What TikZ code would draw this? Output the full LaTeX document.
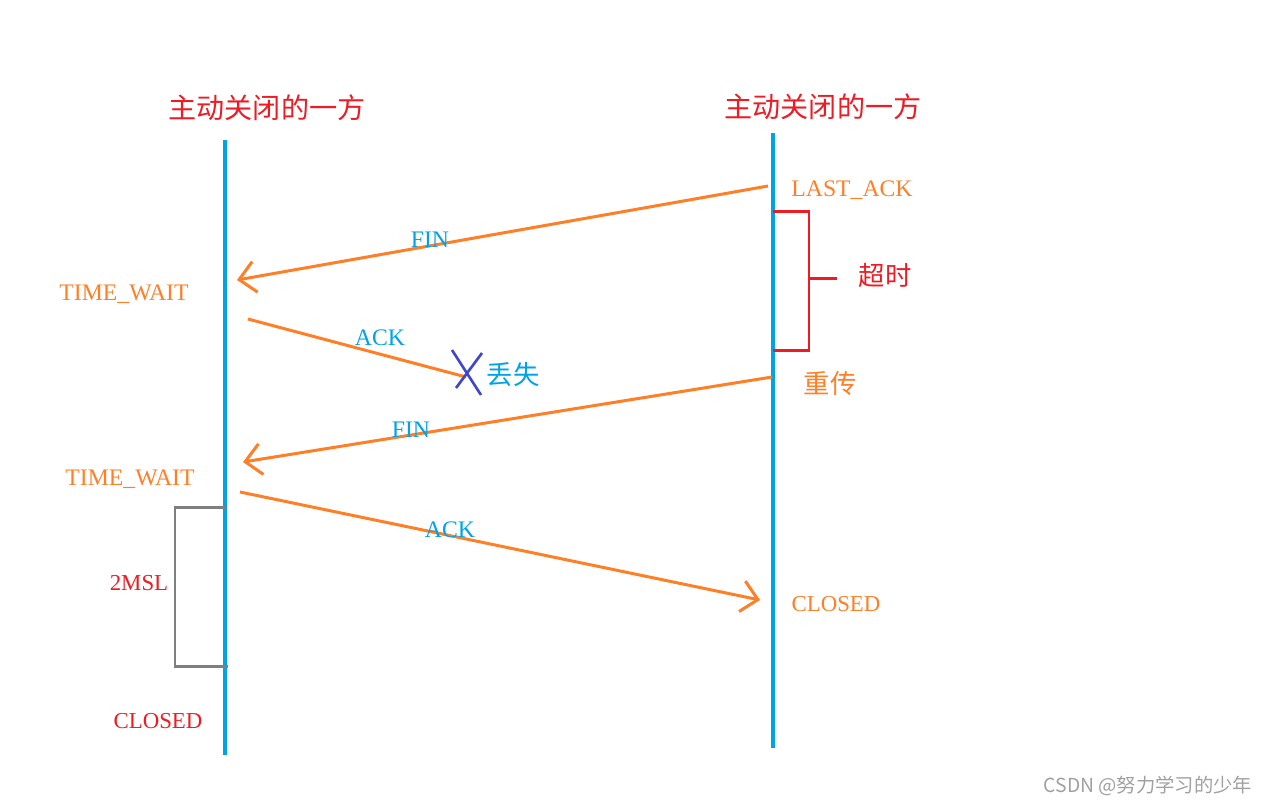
\documentclass[tikz,border=0pt]{standalone}
\usepackage{fontspec}
\setmainfont{Liberation Serif}
\newfontfamily\cjkfont{Noto Sans CJK SC}
\usetikzlibrary{
  arrows.meta,
  positioning
}
\definecolor{tcpLine}{HTML}{00A2E8}
\definecolor{tcpSeg}{HTML}{FF7F27}
\definecolor{tcpRed}{HTML}{ED1C24}
\definecolor{tcpLost}{HTML}{3F48CC}
\definecolor{tcpGray}{HTML}{7F7F7F}
\definecolor{tcpMark}{HTML}{A0A0A0}
\tikzset{
  lifeline/.style={tcpLine, line width=2pt},
  segment/.style={tcpSeg, line width=1.7pt},
  segarrow/.style={segment, -{Straight Barb[length=0.32cm, width=0.62cm, line width=1.7pt]}},
  title/.style={text=tcpRed, font=\cjkfont\fontsize{16}{18}\selectfont, inner sep=0pt},
  state/.style={text=tcpSeg, font=\fontsize{13.5}{16}\selectfont, inner sep=0pt},
  stateserif/.style={font=\fontsize{13}{15}\selectfont, inner sep=0pt},
  seglabel/.style={text=tcpLine, font=\fontsize{13.5}{16}\selectfont, inner sep=0pt},
  cjknote/.style={font=\cjkfont\fontsize{15}{18}\selectfont, inner sep=0pt},
  timerbrace/.style={line width=1.7pt}
}

\begin{document}
\begin{tikzpicture}[x=0.02cm, y=-0.02cm]
  \useasboundingbox (0,0) rectangle (1269,806);

  \node[title] (cliTitle) at (267,108) {主动关闭的一方};
  \node[title] (srvTitle) at (823,107) {主动关闭的一方};

  \coordinate (cliTop) at (225,140);
  \coordinate (cliBot) at (225,755);
  \coordinate (srvTop) at (773,133);
  \coordinate (srvBot) at (773,748);
  \draw[lifeline] (cliTop) -- (cliBot);
  \draw[lifeline] (srvTop) -- (srvBot);

  \node[state] (lastAck) at (852,190) {LAST\_ACK};
  \node[state] (waitOne) at (124,294) {TIME\_WAIT};
  \node[state] (waitTwo) at (130,479) {TIME\_WAIT};
  \node[stateserif, text=tcpSeg] (srvClosed) at (836,604) {CLOSED};
  \node[stateserif, text=tcpRed] (cliClosed) at (158,721) {CLOSED};
  \node[cjknote, text=tcpSeg] (resend) at (830,384) {重传};
  \node[cjknote, text=tcpRed] (timeout) at (885,275) {超时};
  \node[cjknote, text=tcpLine] (lost) at (513,374) {丢失};
  \node[stateserif, text=tcpRed] (msl) at (139,583) {2MSL};

  \coordinate (finOneS) at (768,186);
  \coordinate (finOneE) at (237,280);
  \coordinate (ackOneS) at (248,319);
  \coordinate (ackOneE) at (466,377);
  \coordinate (finTwoS) at (772,377);
  \coordinate (finTwoE) at (243,462);
  \coordinate (ackTwoS) at (240,492);
  \coordinate (ackTwoE) at (760,600);
  \draw[segarrow] (finOneS) -- (finOneE);
  \draw[segment] (ackOneS) -- (ackOneE);
  \draw[segarrow] (finTwoS) -- (finTwoE);
  \draw[segarrow] (ackTwoS) -- (ackTwoE);
  \node[seglabel] (finOne) at (430,240) {FIN};
  \node[seglabel] (ackOne) at (380,338) {ACK};
  \node[seglabel] (finTwo) at (411,430) {FIN};
  \node[seglabel] (ackTwo) at (450,530) {ACK};

  \coordinate (crossA) at (452,350);
  \coordinate (crossB) at (481,395);
  \coordinate (crossC) at (482,353);
  \coordinate (crossD) at (456,388);
  \draw[tcpLost, line width=1.5pt] (crossA) -- (crossB);
  \draw[tcpLost, line width=1.5pt] (crossC) -- (crossD);

  \coordinate (rtoTop) at (773,211);
  \coordinate (rtoBot) at (773,350);
  \draw[timerbrace, tcpRed] (rtoTop) -- (809,211) -- (809,350) -- (rtoBot);
  \draw[timerbrace, tcpRed] (809,278) -- (837,278);

  \coordinate (mslTop) at (225,507);
  \coordinate (mslBot) at (228,666);
  \draw[timerbrace, tcpGray] (mslTop) -- (175,507) -- (175,666) -- (mslBot);

  \node[text=tcpMark, font=\cjkfont\fontsize{11}{13}\selectfont, inner sep=0pt] (mark) at (1148,786) {CSDN @努力学习的少年};
\end{tikzpicture}
\end{document}
